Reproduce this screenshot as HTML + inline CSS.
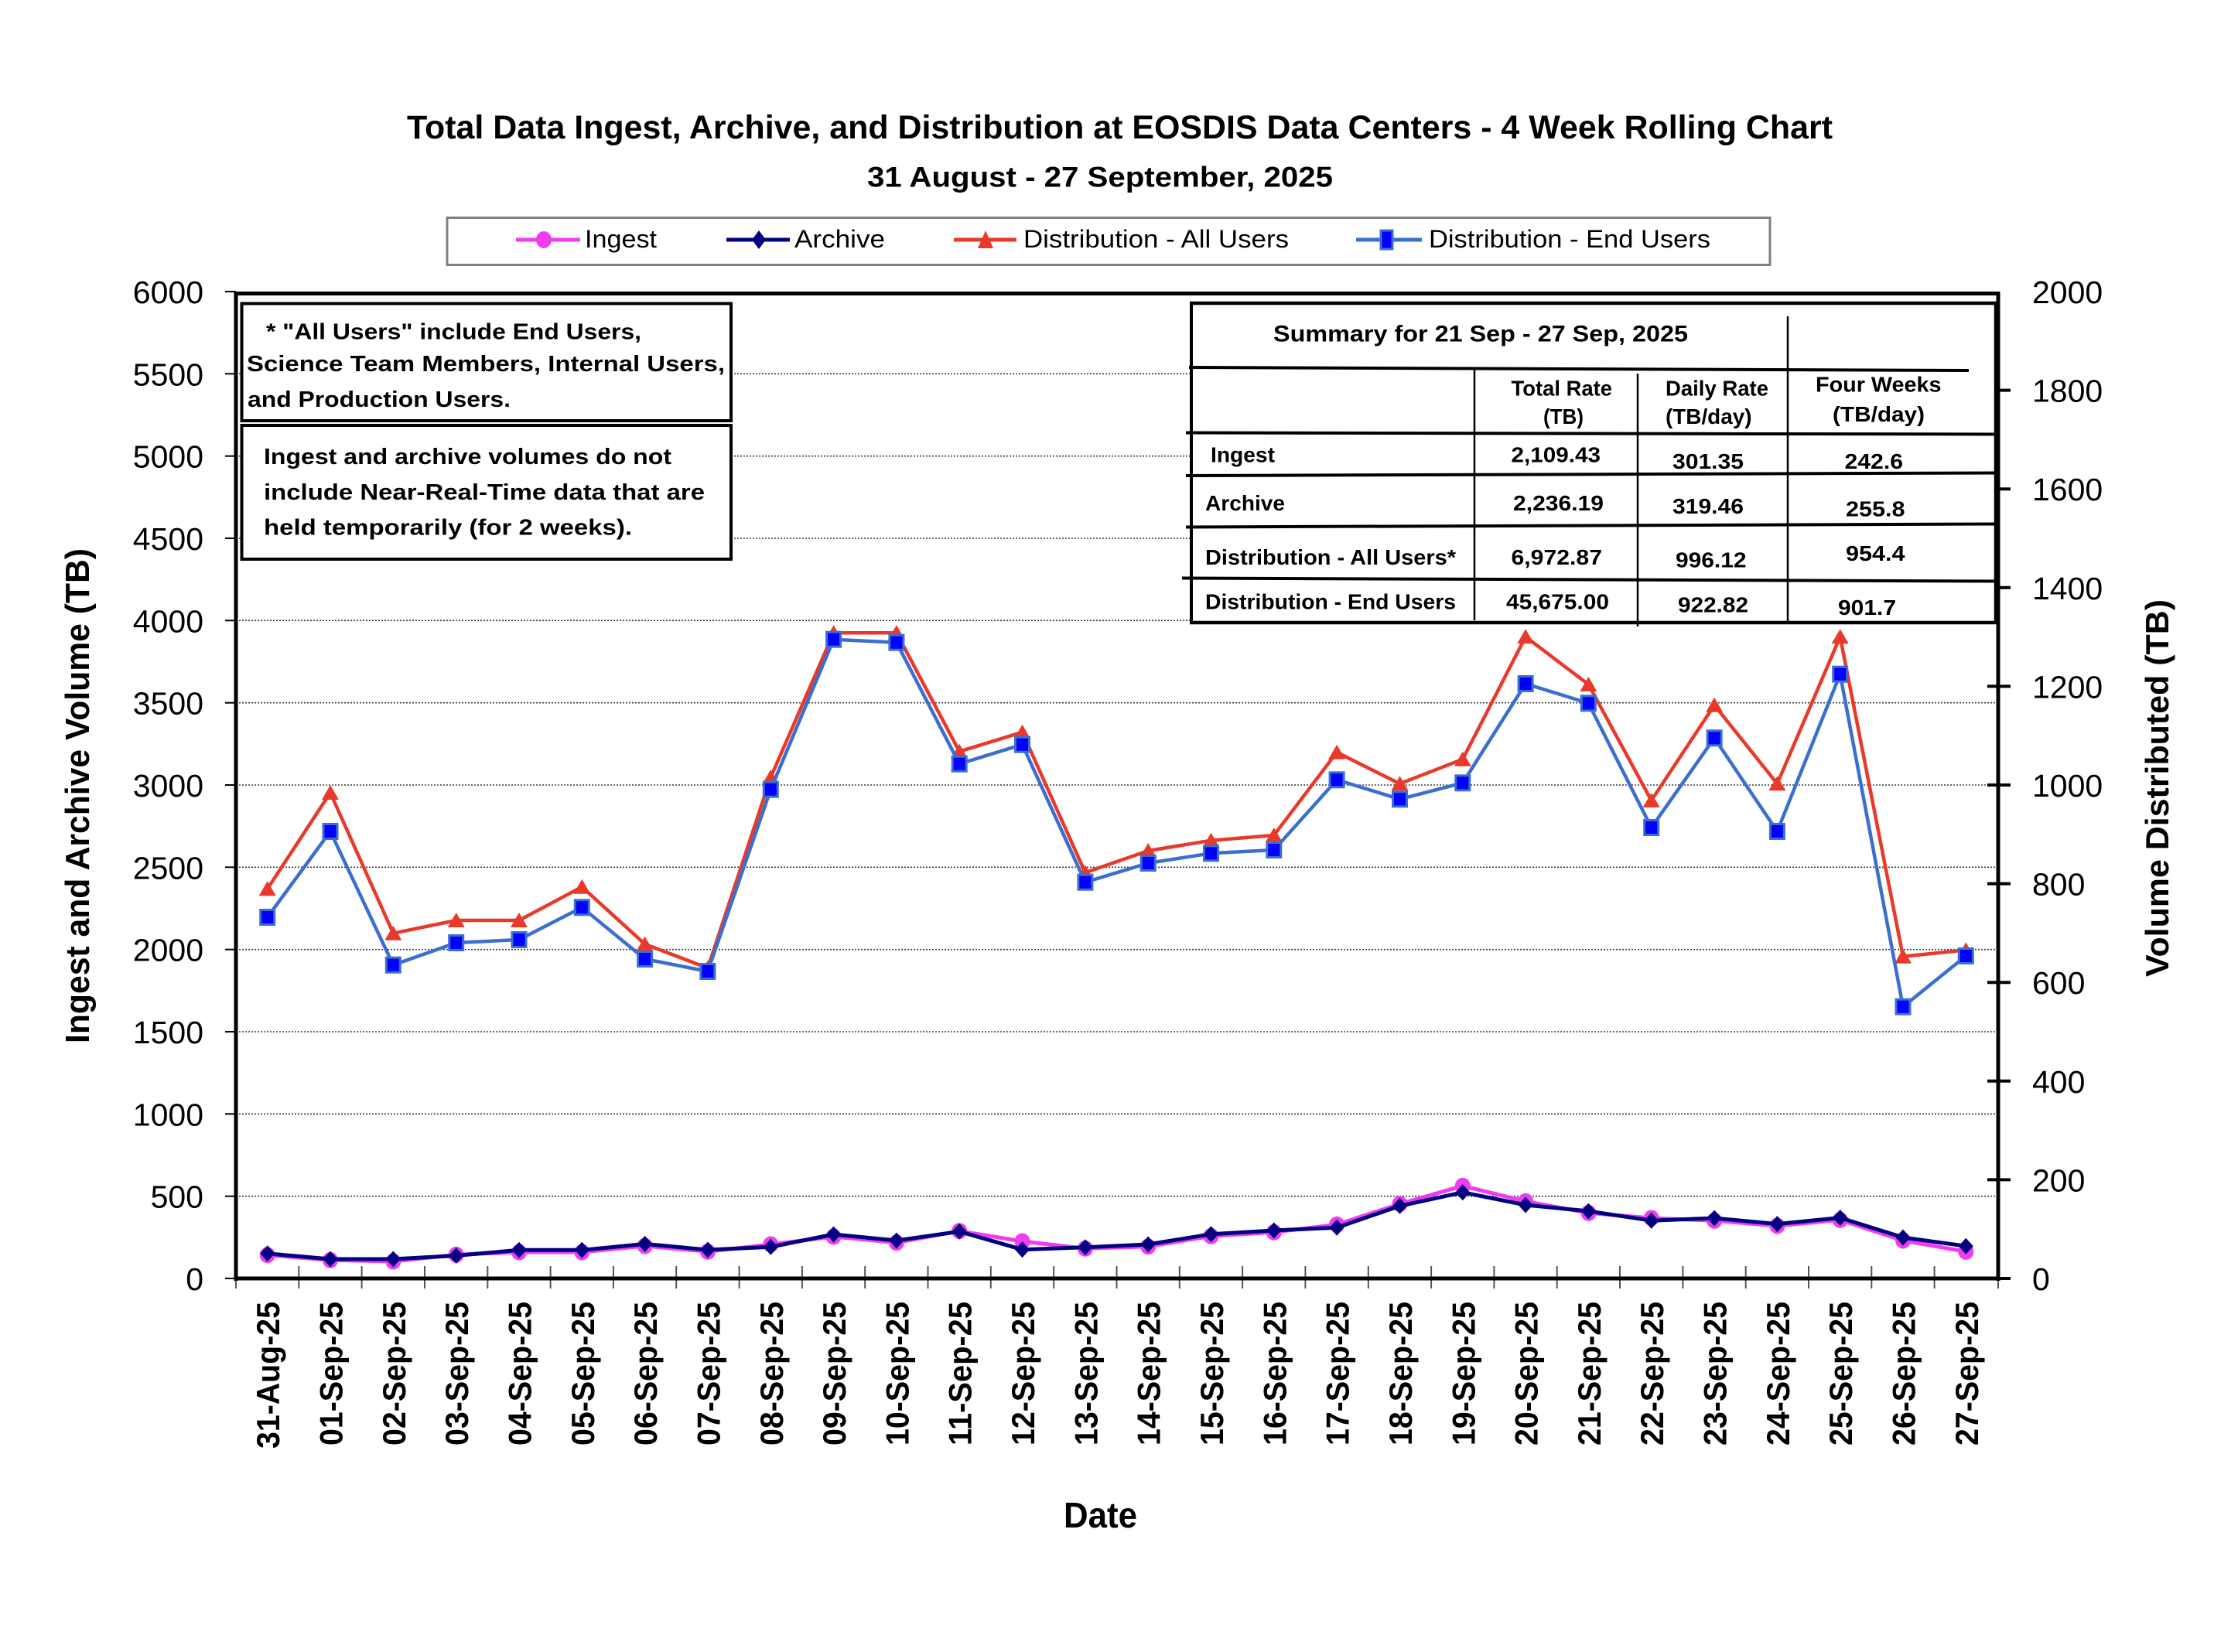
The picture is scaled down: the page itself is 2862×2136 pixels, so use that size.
<!DOCTYPE html>
<html>
<head>
<meta charset="utf-8">
<style>
  html, body { margin: 0; padding: 0; background: #ffffff; }
  svg { display: block; }
  text { font-family: "Liberation Sans", "DejaVu Sans", sans-serif; fill: #000; }
  .b { font-weight: bold; }
</style>
</head>
<body>
<svg xmlns="http://www.w3.org/2000/svg" width="2862" height="2136" viewBox="0 0 2862 2136" xml:space="preserve">
  <defs>
    <marker id="mCirc" markerWidth="24" markerHeight="24" refX="12" refY="12" markerUnits="userSpaceOnUse" overflow="visible">
      <ellipse cx="12" cy="12" rx="10" ry="10.5" fill="#f03cf0"/>
    </marker>
    <marker id="mDia" markerWidth="24" markerHeight="24" refX="12" refY="12" markerUnits="userSpaceOnUse" overflow="visible">
      <path d="M12,1.5 L21.5,12 L12,22.5 L2.5,12 Z" fill="#000080"/>
    </marker>
    <marker id="mTri" markerWidth="24" markerHeight="24" refX="12" refY="12" markerUnits="userSpaceOnUse" overflow="visible">
      <path d="M12,2 L23,21 L1,21 Z" fill="#e8392b"/>
    </marker>
    <marker id="mSq" markerWidth="24" markerHeight="24" refX="12" refY="12" markerUnits="userSpaceOnUse" overflow="visible">
      <rect x="3" y="2.5" width="18" height="19" fill="#0000ff" stroke="#3b6fcf" stroke-width="3"/>
    </marker>
  </defs>

  <rect x="0" y="0" width="2862" height="2136" fill="#ffffff"/>

  <!-- Titles -->
  <text class="b" x="1447.5" y="179" font-size="43" text-anchor="middle" textLength="1843" lengthAdjust="spacingAndGlyphs">Total Data Ingest, Archive, and  Distribution at EOSDIS Data Centers - 4 Week Rolling Chart</text>
  <text class="b" x="1422" y="241.5" font-size="37" text-anchor="middle" textLength="602" lengthAdjust="spacingAndGlyphs">31  August   -  27  September,  2025</text>

  <!-- Legend -->
  <rect x="578" y="281.5" width="1710" height="61" fill="#ffffff" stroke="#7f7f7f" stroke-width="3"/>
  <line x1="667" y1="310" x2="750" y2="310" stroke="#f03cf0" stroke-width="5"/>
  <ellipse cx="703" cy="310" rx="10" ry="11" fill="#f03cf0"/>
  <text x="756" y="320" font-size="32" textLength="93" lengthAdjust="spacingAndGlyphs">Ingest</text>
  <line x1="939" y1="310" x2="1021" y2="310" stroke="#000080" stroke-width="5"/>
  <path d="M981,298 L990,310 L981,322 L972,310 Z" fill="#000080"/>
  <text x="1027" y="320" font-size="32" textLength="117" lengthAdjust="spacingAndGlyphs">Archive</text>
  <line x1="1233" y1="310" x2="1314" y2="310" stroke="#e8392b" stroke-width="5"/>
  <path d="M1274,298 L1284,321 L1264,321 Z" fill="#e8392b"/>
  <text x="1323" y="320" font-size="32" textLength="343" lengthAdjust="spacingAndGlyphs">Distribution - All Users</text>
  <line x1="1753" y1="310" x2="1838" y2="310" stroke="#3b6fcf" stroke-width="5"/>
  <rect x="1785" y="298" width="15" height="24" fill="#0000ff" stroke="#3b6fcf" stroke-width="3"/>
  <text x="1847" y="320" font-size="32" textLength="364" lengthAdjust="spacingAndGlyphs">Distribution - End Users</text>

  <!-- Gridlines -->
  <g stroke="#3a3a3a" stroke-width="1.6" stroke-dasharray="2 2">
    <line x1="305" y1="1546.7" x2="2583" y2="1546.7"/>
    <line x1="305" y1="1440.3" x2="2583" y2="1440.3"/>
    <line x1="305" y1="1334.0" x2="2583" y2="1334.0"/>
    <line x1="305" y1="1227.7" x2="2583" y2="1227.7"/>
    <line x1="305" y1="1121.3" x2="2583" y2="1121.3"/>
    <line x1="305" y1="1015.0" x2="2583" y2="1015.0"/>
    <line x1="305" y1="908.7" x2="2583" y2="908.7"/>
    <line x1="305" y1="802.3" x2="2583" y2="802.3"/>
    <line x1="305" y1="696.0" x2="2583" y2="696.0"/>
    <line x1="305" y1="589.7" x2="2583" y2="589.7"/>
    <line x1="305" y1="483.3" x2="2583" y2="483.3"/>
  </g>

  <!-- Left ticks -->
  <g stroke="#000" stroke-width="2">
    <line x1="291" y1="1653" x2="305" y2="1653"/>
    <line x1="291" y1="1546.7" x2="305" y2="1546.7"/>
    <line x1="291" y1="1440.3" x2="305" y2="1440.3"/>
    <line x1="291" y1="1334.0" x2="305" y2="1334.0"/>
    <line x1="291" y1="1227.7" x2="305" y2="1227.7"/>
    <line x1="291" y1="1121.3" x2="305" y2="1121.3"/>
    <line x1="291" y1="1015.0" x2="305" y2="1015.0"/>
    <line x1="291" y1="908.7" x2="305" y2="908.7"/>
    <line x1="291" y1="802.3" x2="305" y2="802.3"/>
    <line x1="291" y1="696.0" x2="305" y2="696.0"/>
    <line x1="291" y1="589.7" x2="305" y2="589.7"/>
    <line x1="291" y1="483.3" x2="305" y2="483.3"/>
    <line x1="291" y1="377" x2="305" y2="377"/>
  </g>

  <!-- Right ticks -->
  <g stroke="#000" stroke-width="4">
    <line x1="2569" y1="1525.4" x2="2599" y2="1525.4"/>
    <line x1="2569" y1="1397.8" x2="2599" y2="1397.8"/>
    <line x1="2569" y1="1270.2" x2="2599" y2="1270.2"/>
    <line x1="2569" y1="1142.6" x2="2599" y2="1142.6"/>
    <line x1="2569" y1="1015.0" x2="2599" y2="1015.0"/>
    <line x1="2569" y1="887.4" x2="2599" y2="887.4"/>
    <line x1="2569" y1="759.8" x2="2599" y2="759.8"/>
    <line x1="2569" y1="632.2" x2="2599" y2="632.2"/>
    <line x1="2569" y1="504.6" x2="2599" y2="504.6"/>
    <line x1="2569" y1="1653" x2="2599" y2="1653"/>
  </g>

  <!-- Category ticks -->
  <g stroke="#555" stroke-width="2">
    <line x1="305" y1="1653" x2="305" y2="1666"/>
    <line x1="386.3" y1="1637" x2="386.3" y2="1666"/>
    <line x1="467.6" y1="1637" x2="467.6" y2="1666"/>
    <line x1="549.0" y1="1637" x2="549.0" y2="1666"/>
    <line x1="630.3" y1="1637" x2="630.3" y2="1666"/>
    <line x1="711.6" y1="1637" x2="711.6" y2="1666"/>
    <line x1="792.9" y1="1637" x2="792.9" y2="1666"/>
    <line x1="874.2" y1="1637" x2="874.2" y2="1666"/>
    <line x1="955.6" y1="1637" x2="955.6" y2="1666"/>
    <line x1="1036.9" y1="1637" x2="1036.9" y2="1666"/>
    <line x1="1118.2" y1="1637" x2="1118.2" y2="1666"/>
    <line x1="1199.5" y1="1637" x2="1199.5" y2="1666"/>
    <line x1="1280.8" y1="1637" x2="1280.8" y2="1666"/>
    <line x1="1362.2" y1="1637" x2="1362.2" y2="1666"/>
    <line x1="1443.5" y1="1637" x2="1443.5" y2="1666"/>
    <line x1="1524.8" y1="1637" x2="1524.8" y2="1666"/>
    <line x1="1606.1" y1="1637" x2="1606.1" y2="1666"/>
    <line x1="1687.4" y1="1637" x2="1687.4" y2="1666"/>
    <line x1="1768.8" y1="1637" x2="1768.8" y2="1666"/>
    <line x1="1850.1" y1="1637" x2="1850.1" y2="1666"/>
    <line x1="1931.4" y1="1637" x2="1931.4" y2="1666"/>
    <line x1="2012.7" y1="1637" x2="2012.7" y2="1666"/>
    <line x1="2094.0" y1="1637" x2="2094.0" y2="1666"/>
    <line x1="2175.4" y1="1637" x2="2175.4" y2="1666"/>
    <line x1="2256.7" y1="1637" x2="2256.7" y2="1666"/>
    <line x1="2338.0" y1="1637" x2="2338.0" y2="1666"/>
    <line x1="2419.3" y1="1637" x2="2419.3" y2="1666"/>
    <line x1="2500.6" y1="1637" x2="2500.6" y2="1666"/>
    <line x1="2583" y1="1653" x2="2583" y2="1666"/>
  </g>

  <!-- Plot frame / axes -->
  <line x1="302.5" y1="379.5" x2="2585.5" y2="379.5" stroke="#000" stroke-width="5"/>
  <line x1="305" y1="377" x2="305" y2="1656" stroke="#000" stroke-width="5"/>
  <line x1="2583" y1="377" x2="2583" y2="1656" stroke="#000" stroke-width="5"/>
  <line x1="302.5" y1="1653" x2="2585.5" y2="1653" stroke="#000" stroke-width="5"/>

  <!-- Series: Ingest -->
  <polyline fill="none" stroke="#f03cf0" stroke-width="5" stroke-linejoin="round"
    marker-start="url(#mCirc)" marker-mid="url(#mCirc)" marker-end="url(#mCirc)"
    points="345.7,1622.7 427,1629.3 508.3,1631 589.7,1622.3 671,1619 752.3,1619 833.6,1611 914.9,1618.3 996.3,1609 1077.6,1599 1158.9,1606.7 1240.2,1591.7 1321.5,1605 1402.9,1614.3 1484.2,1611.7 1565.5,1598.3 1646.8,1593.3 1728.1,1583.3 1809.5,1556.7 1890.8,1533.3 1972.1,1553.3 2053.4,1568.3 2134.7,1575 2216.1,1578.3 2297.4,1585 2378.7,1577.3 2460,1604 2541.3,1618.3"/>
  <!-- Series: Archive -->
  <polyline fill="none" stroke="#000080" stroke-width="5" stroke-linejoin="round"
    marker-start="url(#mDia)" marker-mid="url(#mDia)" marker-end="url(#mDia)"
    points="345.7,1620.7 427,1628 508.3,1628 589.7,1623.5 671,1616.3 752.3,1616.3 833.6,1608.4 914.9,1616 996.3,1612.3 1077.6,1596 1158.9,1604 1240.2,1592.3 1321.5,1615.7 1402.9,1612.7 1484.2,1609 1565.5,1595.7 1646.8,1591 1728.1,1587.3 1809.5,1559.3 1890.8,1541.7 1972.1,1558 2053.4,1566 2134.7,1578.2 2216.1,1575 2297.4,1582.6 2378.7,1574.5 2460,1600 2541.3,1611.2"/>
  <!-- Series: Distribution - All Users -->
  <polyline fill="none" stroke="#e8392b" stroke-width="4.5" stroke-linejoin="round"
    marker-start="url(#mTri)" marker-mid="url(#mTri)" marker-end="url(#mTri)"
    points="345.7,1149.3 427,1025 508.3,1206.7 589.7,1190 671,1190 752.3,1146.7 833.6,1220.7 914.9,1251.7 996.3,1005 1077.6,818.3 1158.9,818.3 1240.2,971.7 1321.5,946.7 1402.9,1128.3 1484.2,1100 1565.5,1086.7 1646.8,1080 1728.1,972.7 1809.5,1013.3 1890.8,981.7 1972.1,823.3 2053.4,885 2134.7,1035 2216.1,911.7 2297.4,1013.3 2378.7,823.3 2460,1236.7 2541.3,1228.3"/>
  <!-- Series: Distribution - End Users -->
  <polyline fill="none" stroke="#3b6fcf" stroke-width="4.5" stroke-linejoin="round"
    marker-start="url(#mSq)" marker-mid="url(#mSq)" marker-end="url(#mSq)"
    points="345.7,1186 427,1075 508.3,1247.7 589.7,1219 671,1215 752.3,1173.3 833.6,1240 914.9,1256 996.3,1020.7 1077.6,826.7 1158.9,830.7 1240.2,987.7 1321.5,962.7 1402.9,1140.7 1484.2,1116 1565.5,1103.3 1646.8,1099 1728.1,1008.3 1809.5,1033.3 1890.8,1012.3 1972.1,884 2053.4,909.3 2134.7,1070 2216.1,954.3 2297.4,1075 2378.7,871.7 2460,1301.7 2541.3,1236"/>

  <!-- Left text boxes -->
  <rect x="312.5" y="392.5" width="632.5" height="151.5" fill="#ffffff" stroke="#000" stroke-width="4"/>
  <text class="b" x="344" y="438.3" font-size="29" textLength="485" lengthAdjust="spacingAndGlyphs">* "All Users" include End Users,</text>
  <text class="b" x="319" y="480" font-size="29" textLength="618" lengthAdjust="spacingAndGlyphs">Science Team Members,  Internal Users,</text>
  <text class="b" x="320" y="526" font-size="29" textLength="340" lengthAdjust="spacingAndGlyphs">and Production Users.</text>

  <rect x="312.5" y="550" width="632.5" height="173" fill="#ffffff" stroke="#000" stroke-width="4"/>
  <text class="b" x="341" y="600" font-size="29" textLength="527" lengthAdjust="spacingAndGlyphs">Ingest and archive volumes do not</text>
  <text class="b" x="341" y="646" font-size="29" textLength="570" lengthAdjust="spacingAndGlyphs">include Near-Real-Time data that are</text>
  <text class="b" x="341" y="691.7" font-size="29" textLength="476" lengthAdjust="spacingAndGlyphs">held temporarily (for 2 weeks).</text>

  <!-- Summary table -->
  <rect x="1540" y="392" width="1040" height="413" fill="#ffffff" stroke="none"/>
  <g stroke="#000" fill="none">
    <line x1="1538" y1="392" x2="2582" y2="392" stroke-width="4.5"/>
    <line x1="1540" y1="392" x2="1540" y2="807" stroke-width="4"/>
    <line x1="2580" y1="392" x2="2580" y2="807" stroke-width="4.5"/>
    <line x1="1537" y1="475" x2="2545" y2="479" stroke-width="4"/>
    <line x1="1533" y1="559.5" x2="2580" y2="561.5" stroke-width="4"/>
    <line x1="1533" y1="615" x2="2580" y2="611.5" stroke-width="4"/>
    <line x1="1533" y1="681.5" x2="2580" y2="677.5" stroke-width="4"/>
    <line x1="1528" y1="747.5" x2="2580" y2="751.5" stroke-width="4"/>
    <line x1="1538" y1="805" x2="2582" y2="805" stroke-width="4.5"/>
    <line x1="1906" y1="478" x2="1906" y2="802" stroke-width="2.5"/>
    <line x1="2117" y1="483" x2="2117" y2="810" stroke-width="2.5"/>
    <line x1="2311" y1="409" x2="2311" y2="805" stroke-width="2.5"/>
  </g>
  <text class="b" x="1646" y="441.7" font-size="30" textLength="536" lengthAdjust="spacingAndGlyphs">Summary  for  21  Sep   -  27  Sep,  2025</text>

  <text class="b" x="1953.5" y="511.7" font-size="28" textLength="130.5" lengthAdjust="spacingAndGlyphs">Total Rate</text>
  <text class="b" x="1995" y="548" font-size="28" textLength="52" lengthAdjust="spacingAndGlyphs">(TB)</text>
  <text class="b" x="2153" y="511.7" font-size="28" textLength="133" lengthAdjust="spacingAndGlyphs">Daily Rate</text>
  <text class="b" x="2153" y="548" font-size="28" textLength="111.5" lengthAdjust="spacingAndGlyphs">(TB/day)</text>
  <text class="b" x="2347" y="506.7" font-size="28" textLength="162.5" lengthAdjust="spacingAndGlyphs">Four Weeks</text>
  <text class="b" x="2369" y="545" font-size="28" textLength="119" lengthAdjust="spacingAndGlyphs">(TB/day)</text>

  <text class="b" x="1565" y="597.5" font-size="28" textLength="83" lengthAdjust="spacingAndGlyphs">Ingest</text>
  <text class="b" x="1953.5" y="597.3" font-size="28" textLength="115.5" lengthAdjust="spacingAndGlyphs">2,109.43</text>
  <text class="b" x="2162" y="606" font-size="28" textLength="92" lengthAdjust="spacingAndGlyphs">301.35</text>
  <text class="b" x="2384.5" y="606" font-size="28" textLength="75.5" lengthAdjust="spacingAndGlyphs">242.6</text>

  <text class="b" x="1558" y="660" font-size="28" textLength="103" lengthAdjust="spacingAndGlyphs">Archive</text>
  <text class="b" x="1956" y="660" font-size="28" textLength="117" lengthAdjust="spacingAndGlyphs">2,236.19</text>
  <text class="b" x="2162" y="664" font-size="28" textLength="92" lengthAdjust="spacingAndGlyphs">319.46</text>
  <text class="b" x="2386" y="667.3" font-size="28" textLength="76.5" lengthAdjust="spacingAndGlyphs">255.8</text>

  <text class="b" x="1558" y="730" font-size="28" textLength="324" lengthAdjust="spacingAndGlyphs">Distribution - All Users*</text>
  <text class="b" x="1953.5" y="730" font-size="28" textLength="117.5" lengthAdjust="spacingAndGlyphs">6,972.87</text>
  <text class="b" x="2166" y="733.3" font-size="28" textLength="91.5" lengthAdjust="spacingAndGlyphs">996.12</text>
  <text class="b" x="2386" y="725" font-size="28" textLength="76.5" lengthAdjust="spacingAndGlyphs">954.4</text>

  <text class="b" x="1558" y="787.3" font-size="28" textLength="324" lengthAdjust="spacingAndGlyphs">Distribution - End Users</text>
  <text class="b" x="1947" y="787.3" font-size="28" textLength="133" lengthAdjust="spacingAndGlyphs">45,675.00</text>
  <text class="b" x="2169" y="791.7" font-size="28" textLength="91" lengthAdjust="spacingAndGlyphs">922.82</text>
  <text class="b" x="2376" y="795" font-size="28" textLength="75" lengthAdjust="spacingAndGlyphs">901.7</text>

  <!-- Left axis labels -->
  <g font-size="41" text-anchor="end">
    <text x="263" y="1668">0</text>
    <text x="263" y="1561.7">500</text>
    <text x="263" y="1455.3">1000</text>
    <text x="263" y="1349">1500</text>
    <text x="263" y="1242.7">2000</text>
    <text x="263" y="1136.3">2500</text>
    <text x="263" y="1030">3000</text>
    <text x="263" y="923.7">3500</text>
    <text x="263" y="817.3">4000</text>
    <text x="263" y="711">4500</text>
    <text x="263" y="604.7">5000</text>
    <text x="263" y="498.3">5500</text>
    <text x="263" y="392">6000</text>
  </g>

  <!-- Right axis labels -->
  <g font-size="41" text-anchor="start">
    <text x="2627" y="1668">0</text>
    <text x="2627" y="1540.4">200</text>
    <text x="2627" y="1412.8">400</text>
    <text x="2627" y="1285.2">600</text>
    <text x="2627" y="1157.6">800</text>
    <text x="2627" y="1030">1000</text>
    <text x="2627" y="902.4">1200</text>
    <text x="2627" y="774.8">1400</text>
    <text x="2627" y="647.2">1600</text>
    <text x="2627" y="519.6">1800</text>
    <text x="2627" y="392">2000</text>
  </g>

  <!-- Axis titles -->
  <text class="b" font-size="44" text-anchor="middle" textLength="640" lengthAdjust="spacingAndGlyphs" transform="translate(115,1029) rotate(-90)">Ingest and Archive Volume (TB)</text>
  <text class="b" font-size="42" text-anchor="middle" textLength="488" lengthAdjust="spacingAndGlyphs" transform="translate(2803,1019) rotate(-90)">Volume Distributed (TB)</text>
  <text class="b" x="1422.5" y="1975" font-size="46" text-anchor="middle" textLength="95" lengthAdjust="spacingAndGlyphs">Date</text>

  <!-- X category labels -->
  <g class="b" font-size="42" font-weight="bold" text-anchor="end">
    <text transform="translate(361.2,1683) rotate(-90)" textLength="190" lengthAdjust="spacingAndGlyphs">31-Aug-25</text>
    <text transform="translate(442.5,1683) rotate(-90)" textLength="186" lengthAdjust="spacingAndGlyphs">01-Sep-25</text>
    <text transform="translate(523.8,1683) rotate(-90)" textLength="186" lengthAdjust="spacingAndGlyphs">02-Sep-25</text>
    <text transform="translate(605.2,1683) rotate(-90)" textLength="186" lengthAdjust="spacingAndGlyphs">03-Sep-25</text>
    <text transform="translate(686.5,1683) rotate(-90)" textLength="186" lengthAdjust="spacingAndGlyphs">04-Sep-25</text>
    <text transform="translate(767.8,1683) rotate(-90)" textLength="186" lengthAdjust="spacingAndGlyphs">05-Sep-25</text>
    <text transform="translate(849.1,1683) rotate(-90)" textLength="186" lengthAdjust="spacingAndGlyphs">06-Sep-25</text>
    <text transform="translate(930.4,1683) rotate(-90)" textLength="186" lengthAdjust="spacingAndGlyphs">07-Sep-25</text>
    <text transform="translate(1011.8,1683) rotate(-90)" textLength="186" lengthAdjust="spacingAndGlyphs">08-Sep-25</text>
    <text transform="translate(1093.1,1683) rotate(-90)" textLength="186" lengthAdjust="spacingAndGlyphs">09-Sep-25</text>
    <text transform="translate(1174.4,1683) rotate(-90)" textLength="186" lengthAdjust="spacingAndGlyphs">10-Sep-25</text>
    <text transform="translate(1255.7,1683) rotate(-90)" textLength="186" lengthAdjust="spacingAndGlyphs">11-Sep-25</text>
    <text transform="translate(1337.0,1683) rotate(-90)" textLength="186" lengthAdjust="spacingAndGlyphs">12-Sep-25</text>
    <text transform="translate(1418.4,1683) rotate(-90)" textLength="186" lengthAdjust="spacingAndGlyphs">13-Sep-25</text>
    <text transform="translate(1499.7,1683) rotate(-90)" textLength="186" lengthAdjust="spacingAndGlyphs">14-Sep-25</text>
    <text transform="translate(1581.0,1683) rotate(-90)" textLength="186" lengthAdjust="spacingAndGlyphs">15-Sep-25</text>
    <text transform="translate(1662.3,1683) rotate(-90)" textLength="186" lengthAdjust="spacingAndGlyphs">16-Sep-25</text>
    <text transform="translate(1743.6,1683) rotate(-90)" textLength="186" lengthAdjust="spacingAndGlyphs">17-Sep-25</text>
    <text transform="translate(1825.0,1683) rotate(-90)" textLength="186" lengthAdjust="spacingAndGlyphs">18-Sep-25</text>
    <text transform="translate(1906.3,1683) rotate(-90)" textLength="186" lengthAdjust="spacingAndGlyphs">19-Sep-25</text>
    <text transform="translate(1987.6,1683) rotate(-90)" textLength="186" lengthAdjust="spacingAndGlyphs">20-Sep-25</text>
    <text transform="translate(2068.9,1683) rotate(-90)" textLength="186" lengthAdjust="spacingAndGlyphs">21-Sep-25</text>
    <text transform="translate(2150.2,1683) rotate(-90)" textLength="186" lengthAdjust="spacingAndGlyphs">22-Sep-25</text>
    <text transform="translate(2231.6,1683) rotate(-90)" textLength="186" lengthAdjust="spacingAndGlyphs">23-Sep-25</text>
    <text transform="translate(2312.9,1683) rotate(-90)" textLength="186" lengthAdjust="spacingAndGlyphs">24-Sep-25</text>
    <text transform="translate(2394.2,1683) rotate(-90)" textLength="186" lengthAdjust="spacingAndGlyphs">25-Sep-25</text>
    <text transform="translate(2475.5,1683) rotate(-90)" textLength="186" lengthAdjust="spacingAndGlyphs">26-Sep-25</text>
    <text transform="translate(2556.8,1683) rotate(-90)" textLength="186" lengthAdjust="spacingAndGlyphs">27-Sep-25</text>
  </g>
</svg>
</body>
</html>
